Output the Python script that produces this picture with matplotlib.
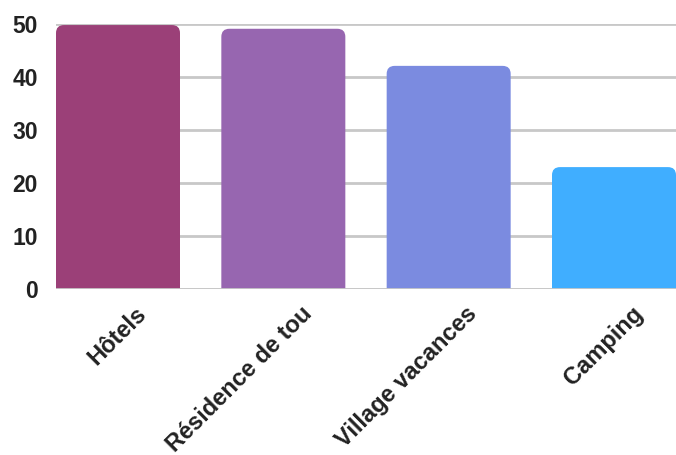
import matplotlib
matplotlib.use('Agg')
import matplotlib.pyplot as plt
from matplotlib.patches import FancyBboxPatch
from matplotlib.transforms import ScaledTranslation

categories = ['Hôtels', 'Résidence de tou', 'Village vacances', 'Camping']
values = [49.8, 49.1, 42.1, 23.0]
colors = ['#9B4078', '#9766B0', '#7B8BE0', '#40AEFF']
yticks = [0, 10, 20, 30, 40, 50]

plt.rcParams['font.family'] = ['Liberation Sans', 'DejaVu Sans']

fig = plt.figure(figsize=(6.76, 4.55), dpi=100)
ax = fig.add_axes([56/676, 1 - 289/455, 620/676, 265/455])

bars = ax.bar(range(len(categories)), values, width=0.75, color=colors)

# swap plain bars for ones with rounded tops (bottom hidden below 0)
px_x = 620 / 3.75
px_y = 265 / 50.0
r = 8 / px_x
for b in bars:
  x, w, h = b.get_x(), b.get_width(), b.get_height()
  p = FancyBboxPatch((x, -3), w, h + 3,
                     boxstyle='round,pad=0,rounding_size=%f' % r,
                     mutation_aspect=px_x / px_y,
                     facecolor=b.get_facecolor(), edgecolor='none', zorder=2)
  b.set_visible(False)
  ax.add_patch(p)

ax.set_xlim(-0.375, 3.375)
ax.set_ylim(0, 50)
ax.set_yticks(yticks)
ax.set_yticklabels([str(t) for t in yticks], fontsize=16.5, fontweight='bold', color='#222222')
ax.tick_params(axis='y', length=0, pad=13)
ax.tick_params(axis='x', length=0)
ax.set_xticks(range(len(categories)))
ax.set_xticklabels([])

for i, c in enumerate(categories):
  off = ScaledTranslation(25/100, -21/100, fig.dpi_scale_trans)
  ax.text(i, 0, c, transform=ax.transData + off, rotation=45,
          rotation_mode='anchor', ha='right', va='center',
          fontsize=17, fontweight='bold', color='#222222', clip_on=False)

ax.grid(axis='y', color='#C8C8C8', linewidth=2, zorder=0)
ax.set_axisbelow(True)
ax.axhline(0, color='#C8C8C8', linewidth=2, zorder=3)
for s in ax.spines.values():
  s.set_visible(False)

fig.savefig('out.png', dpi=100)
